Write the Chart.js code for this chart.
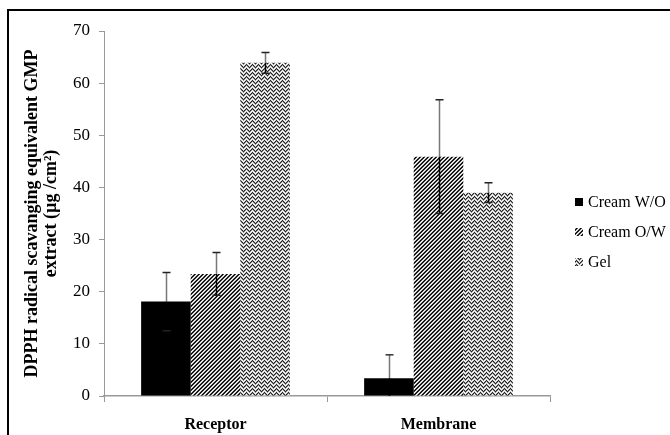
<!DOCTYPE html>
<html>
<head>
<meta charset="utf-8">
<script src="https://cdn.jsdelivr.net/npm/chart.js@4"></script>
<style>
  html, body { margin: 0; padding: 0; background: #fff; }
  #wrap { width: 670px; height: 435px; position: relative; }
</style>
</head>
<body>
<div id="wrap"><canvas id="c" width="670" height="435"></canvas></div>
<script>
// ---- data ----
const categories = ['Receptor', 'Membrane'];
const seriesNames = ['Cream W/O', 'Cream O/W', 'Gel'];
const creamWO = [18.1, 3.4];
const creamOW = [23.4, 45.9];
const gel = [63.9, 39.0];
const creamWOErr = [5.6, 4.5];
const creamOWErr = [4.1, 10.9];
const gelErr = [2.0, 1.9];
const yTicks = [0, 10, 20, 30, 40, 50, 60, 70];
const yTitle = ['DPPH radical scavanging equivalent GMP', 'extract (µg /cm²)'];

// ---- patterns ----
function makeHatch() {
  const c = document.createElement('canvas'); c.width = 4; c.height = 4;
  const g = c.getContext('2d');
  const cols = ['#000', '#444', '#fff', '#bbb'];
  for (let y = 0; y < 4; y++) for (let x = 0; x < 4; x++) {
    g.fillStyle = cols[(x + y) % 4]; g.fillRect(x, y, 1, 1);
  }
  return g.createPattern(c, 'repeat');
}
function makeZig() {
  const c = document.createElement('canvas'); c.width = 6; c.height = 4;
  const g = c.getContext('2d');
  const zig = [0, 1, 2, 3, 2, 1];
  const cols = ['#222', '#8c8c8c', '#fff', '#cfcfcf'];
  for (let x = 0; x < 6; x++) for (let k = 0; k < 4; k++) {
    g.fillStyle = cols[k]; g.fillRect(x, (zig[x] + k) % 4, 1, 1);
  }
  return g.createPattern(c, 'repeat');
}
const hatch = makeHatch();
const zig = makeZig();

const errs = [creamWOErr, creamOWErr, gelErr];

const errorBars = {
  id: 'errorBars',
  afterDatasetsDraw(chart) {
    const ctx = chart.ctx, ys = chart.scales.y;
    chart.data.datasets.forEach((ds, i) => {
      const meta = chart.getDatasetMeta(i);
      meta.data.forEach((bar, j) => {
        const v = ds.data[j], e = errs[i][j];
        const x = Math.round(bar.x) + 0.5;
        const yv = ys.getPixelForValue(v);
        const yt = ys.getPixelForValue(v + e);
        const clipped = v - e < 0;
        const yb = ys.getPixelForValue(Math.max(v - e, 0));
        ctx.save();
        ctx.lineWidth = 1.5;
        ctx.strokeStyle = '#777';
        ctx.beginPath(); ctx.moveTo(x, yt); ctx.lineTo(x, yv); ctx.stroke();
        ctx.strokeStyle = '#000';
        ctx.beginPath(); ctx.moveTo(x, yv); ctx.lineTo(x, yb); ctx.stroke();
        ctx.strokeStyle = '#333';
        ctx.beginPath();
        ctx.moveTo(x - 4, yt); ctx.lineTo(x + 4, yt);
        if (!clipped) { ctx.strokeStyle = '#222'; ctx.moveTo(x - 4, yb); ctx.lineTo(x + 4, yb); }
        ctx.stroke();
        ctx.restore();
      });
    });
  }
};

const frameLegend = {
  id: 'frameLegend',
  afterDraw(chart) {
    const ctx = chart.ctx;
    ctx.save();
    ctx.strokeStyle = '#000'; ctx.lineWidth = 2;
    ctx.beginPath(); ctx.moveTo(8, 436); ctx.lineTo(8, 10); ctx.lineTo(671, 10); ctx.stroke();
    ctx.font = '16px "Liberation Serif", serif';
    ctx.textBaseline = 'middle';
    chart.data.datasets.forEach((ds, i) => {
      const cy = 202 + i * 30;
      ctx.fillStyle = ds.backgroundColor;
      ctx.fillRect(575, cy - 4, 8, 8);
      ctx.fillStyle = '#000';
      ctx.fillText(ds.label, 588, cy + 1);
    });
    ctx.restore();
  }
};

new Chart(document.getElementById('c'), {
  type: 'bar',
  data: {
    labels: categories,
    datasets: [
      { label: seriesNames[0], data: creamWO, backgroundColor: '#000' },
      { label: seriesNames[1], data: creamOW, backgroundColor: hatch },
      { label: seriesNames[2], data: gel, backgroundColor: zig }
    ]
  },
  options: {
    responsive: false,
    animation: false,
    devicePixelRatio: 1,
    layout: { padding: { left: 0, right: 120, top: 31, bottom: 0 } },
    datasets: { bar: { categoryPercentage: 0.667, barPercentage: 1.0, borderWidth: 0 } },
    plugins: { legend: { display: false }, tooltip: { enabled: false } },
    scales: {
      x: {
        afterFit(s) { s.height = 39; },
        grid: { offset: true, drawOnChartArea: false, drawTicks: true, tickLength: 6, color: '#999', lineWidth: 1 },
        border: { color: '#999', width: 1.5 },
        ticks: { color: '#000', padding: 13, font: { family: '"Liberation Serif", serif', size: 16, weight: 'bold' } }
      },
      y: {
        min: 0, max: 70,
        afterFit(s) { s.width = 104; },
        afterBuildTicks(s) { s.ticks = yTicks.map(v => ({ value: v })); },
        grid: { drawOnChartArea: false, drawTicks: true, tickLength: 5, color: '#999', lineWidth: 1 },
        border: { color: '#999', width: 1 },
        ticks: { color: '#000', padding: 9, font: { family: '"Liberation Serif", serif', size: 17 } },
        title: {
          display: true, text: yTitle, color: '#000',
          padding: { top: 22, bottom: 4 },
          font: { family: '"Liberation Serif", serif', size: 18, weight: 'bold', lineHeight: 1.1 }
        }
      }
    }
  },
  plugins: [errorBars, frameLegend]
});
</script>
</body>
</html>
